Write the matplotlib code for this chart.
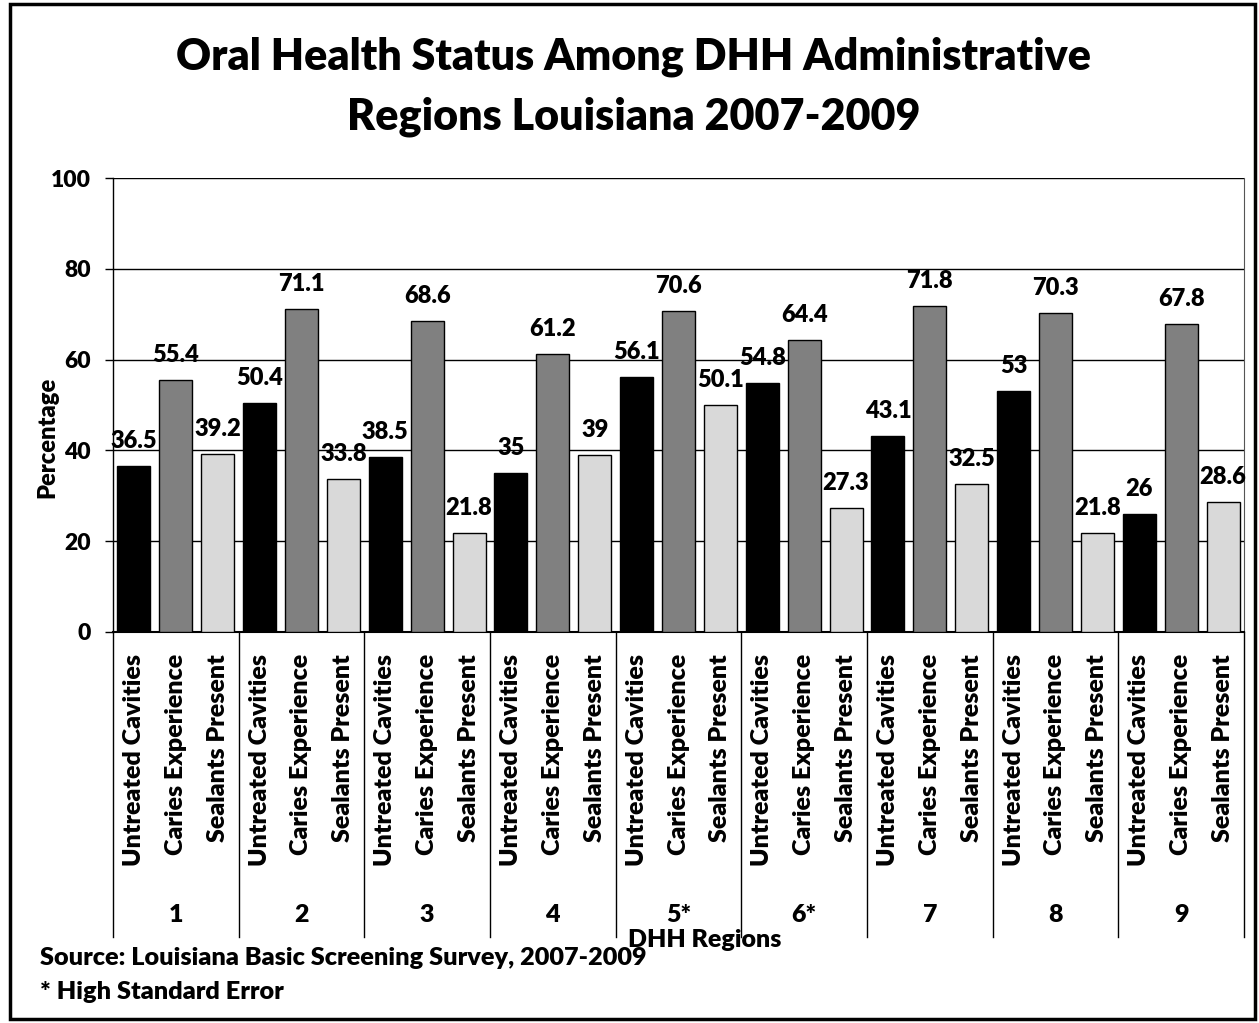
# oral health status chart, DHH regions 2007-2009

import matplotlib
matplotlib.use("Agg")
import matplotlib.pyplot as plt
from matplotlib.patches import Rectangle
from matplotlib.lines import Line2D

# ==========================================
# DATA
# ==========================================

regions = ["1", "2", "3", "4", "5*", "6*", "7", "8", "9"]

measures = ["Untreated Cavities", "Caries Experience", "Sealants Present"]

untreated = [36.5, 50.4, 38.5, 35, 56.1, 54.8, 43.1, 53, 26]
caries = [55.4, 71.1, 68.6, 61.2, 70.6, 64.4, 71.8, 70.3, 67.8]
sealants = [39.2, 33.8, 21.8, 39, 50.1, 27.3, 32.5, 21.8, 28.6]

value_text = [
    ["36.5", "55.4", "39.2"], ["50.4", "71.1", "33.8"], ["38.5", "68.6", "21.8"],
    ["35", "61.2", "39"], ["56.1", "70.6", "50.1"], ["54.8", "64.4", "27.3"],
    ["43.1", "71.8", "32.5"], ["53", "70.3", "21.8"], ["26", "67.8", "28.6"],
]

y_ticks = [0, 20, 40, 60, 80, 100]

colors = ["#000000", "#808080", "#d9d9d9"]

# ==========================================
# FIGURE
# ==========================================

plt.rcParams["font.family"] = ["Lato", "DejaVu Sans"]
plt.rcParams["font.weight"] = "heavy"

W, H = 1259, 1023
WT = "heavy"
fig = plt.figure(figsize=(W / 100, H / 100), dpi=100)

ax = fig.add_axes([113 / W, 1 - 632 / H, (1244 - 113) / W, (632 - 178) / H])

n_meas = len(measures)
series = [untreated, caries, sealants]

positions = []
labels = []
for g in range(len(regions)):
    for m in range(n_meas):
        x = g * n_meas + m
        val = series[m][g]
        ax.bar(x, val, width=0.79, color=colors[m], edgecolor="black",
               linewidth=1.0, zorder=3)
        ax.annotate(value_text[g][m], (x, val), xytext=(0, 18),
                    textcoords="offset points", ha="center", va="center",
                    fontsize=17, fontweight=WT, zorder=4)
        positions.append(x)
        labels.append(measures[m])

ax.set_xlim(-0.5, len(regions) * n_meas - 0.5)
ax.set_ylim(0, 100)
ax.set_yticks(y_ticks)
ax.tick_params(axis="y", direction="out", length=6, width=1, labelsize=16.5, pad=10)
for t in ax.get_yticklabels():
    t.set_fontweight(WT)
ax.set_xticks(positions)
ax.set_xticklabels(labels, rotation=90, fontsize=18, fontweight=WT)
ax.tick_params(axis="x", length=0, pad=16)

ax.grid(axis="y", color="black", linewidth=1.0, zorder=0)
ax.set_axisbelow(True)

ax.spines["top"].set_visible(False)
ax.spines["right"].set_color("#555555")
ax.spines["left"].set_linewidth(1.0)
ax.spines["bottom"].set_linewidth(1.5)

# group separators and region numbers below the axis
trans = ax.get_xaxis_transform()
for g in range(len(regions) + 1):
    xs = g * n_meas - 0.5
    ax.add_line(Line2D([xs, xs], [0, -0.672], transform=trans,
                       color="black", linewidth=1.0, clip_on=False))
for g, r in enumerate(regions):
    ax.text(g * n_meas + 1, -0.623, r, transform=trans, ha="center",
            va="center", fontsize=18, fontweight=WT)

# ==========================================
# TEXTS
# ==========================================

fig.text(634 / W, 1 - 57 / H, "Oral Health Status Among DHH Administrative",
         ha="center", va="center", fontsize=31, fontweight=WT)
fig.text(634 / W, 1 - 117 / H, "Regions Louisiana 2007-2009",
         ha="center", va="center", fontsize=31, fontweight=WT)

fig.text(47 / W, 1 - 437 / H, "Percentage", rotation=90, ha="center",
         va="center", fontsize=17, fontweight=WT)

fig.text(705 / W, 1 - 940 / H, "DHH Regions", ha="center", va="center",
         fontsize=18, fontweight=WT)

fig.text(40 / W, 1 - 958 / H, "Source: Louisiana Basic Screening Survey, 2007-2009",
         ha="left", va="center", fontsize=18.2, fontweight=WT)
fig.text(40 / W, 1 - 992 / H, "* High Standard Error",
         ha="left", va="center", fontsize=18.2, fontweight=WT)

# outer border
fig.patches.append(Rectangle((10 / W, 4 / H), 1245 / W, 1015 / H,
                             transform=fig.transFigure, fill=False,
                             edgecolor="black", linewidth=2.5))

fig.savefig("out.png", dpi=100)
